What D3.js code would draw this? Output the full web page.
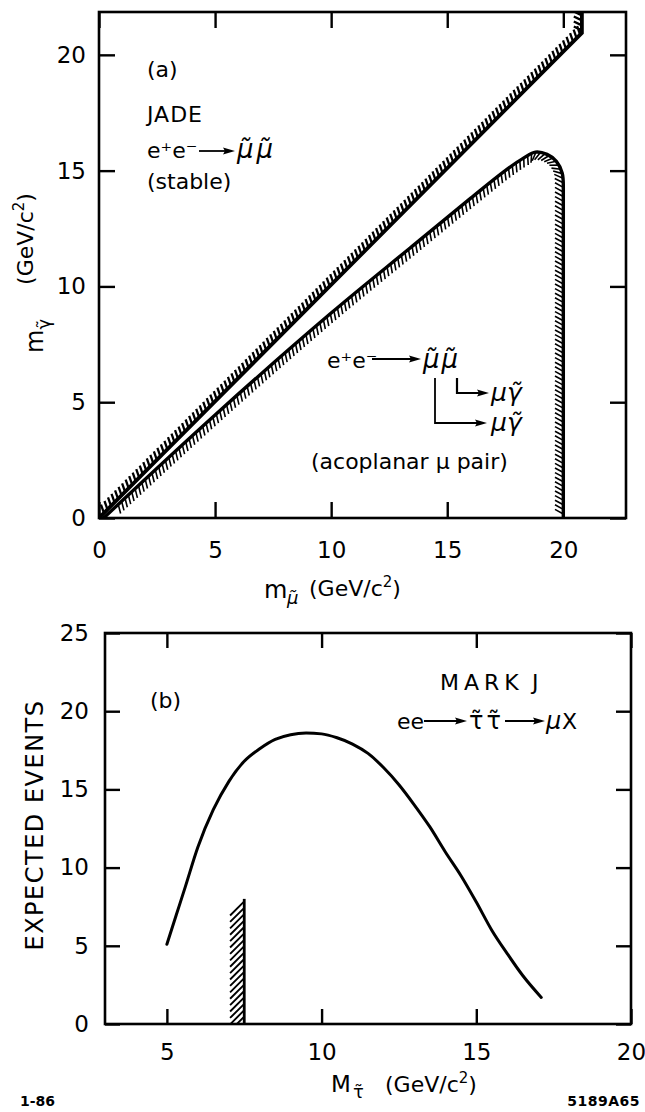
<!DOCTYPE html>
<html>
<head>
<meta charset="utf-8">
<script src="https://cdn.jsdelivr.net/npm/d3@7"></script>
<style>
  html, body { margin: 0; padding: 0; background: #fff; }
  svg { display: block; }
  text { font-family: "DejaVu Sans", sans-serif; fill: #000; }
</style>
</head>
<body>
<svg id="fig" width="645" height="1112"></svg>
<script>
// ---------------- data ----------------
// (a) JADE smuon search, photino mass vs smuon mass (GeV/c^2)
const ticksA = [0, 5, 10, 15, 20];
// stable smuon: region with m_photino above m_smuon is closed
const stableLimit = [[0, 0], [20.8, 20.95], [20.8, 21.85]];
// acoplanar muon pairs: region inside the contour is excluded
const acoplanarLimit = [
  [0.2, 0], [5, 4.45], [10, 8.85], [13.4, 11.66],
  [16, 13.8], [17.5, 15.0], [18.3, 15.55], [18.8, 15.8], [19.3, 15.7],
  [19.7, 15.4], [19.95, 14.9], [20.0, 14.3], [20.0, 0]
];

// (b) MARK J stau search, expected events vs stau mass
const ticksBx = [5, 10, 15, 20];
const ticksBy = [0, 5, 10, 15, 20, 25];
const stauMass = [5.0, 5.3, 5.6, 6.0, 6.5, 7.0, 7.5, 8.0, 8.5, 9.0, 9.5, 10.0, 10.5,
                  11.0, 11.5, 12.0, 12.5, 13.0, 13.5, 14.0, 14.5, 15.0, 15.5, 16.0, 16.5, 17.1];
const expectedEvents = [5.1, 6.95, 8.8, 11.3, 13.7, 15.5, 16.8, 17.6, 18.2, 18.5, 18.6, 18.55, 18.3,
                        17.9, 17.3, 16.4, 15.3, 14.0, 12.6, 11.0, 9.5, 7.8, 6.0, 4.5, 3.1, 1.7];
const stauLimitMass = 7.5;
const stauLimitTop = 8.0;

// ---------------- layout ----------------
const svg = d3.select("#fig");
const xA = d3.scaleLinear().domain([0, 22.7]).range([99, 626]);
const yA = d3.scaleLinear().domain([0, 21.85]).range([518, 12]);
const xB = d3.scaleLinear().domain([3, 20]).range([105, 631]);
const yB = d3.scaleLinear().domain([0, 25]).range([1024, 633]);

const defs = svg.append("defs");
function clipFor(id, x, y) {
  defs.append("clipPath").attr("id", id).append("rect")
    .attr("x", x.range()[0]).attr("y", y.range()[1])
    .attr("width", x.range()[1] - x.range()[0])
    .attr("height", y.range()[0] - y.range()[1]);
  return `url(#${id})`;
}

// Frame with inward ticks on all four sides; labels on left and bottom.
function frame(x, y, xt, yt, opts) {
  const g = svg.append("g");
  const [x0, x1] = x.range(), [y0, y1] = y.range();
  const style = sel => {
    sel.select(".domain").remove();
    sel.selectAll("line").attr("stroke", "#000").attr("stroke-width", 2.4);
    sel.selectAll("text").attr("font-size", 23).attr("font-family", "DejaVu Sans, sans-serif");
  };
  g.append("g").attr("transform", `translate(0,${y0})`)
    .call(d3.axisBottom(x).tickValues(xt).tickSizeInner(-opts.tick).tickSizeOuter(0)
      .tickPadding(opts.xPad).tickFormat(d3.format("d"))).call(style);
  g.append("g").attr("transform", `translate(0,${y1})`)
    .call(d3.axisTop(x).tickValues(xt).tickSizeInner(-opts.tick).tickSizeOuter(0).tickFormat("")).call(style);
  g.append("g").attr("transform", `translate(${x0},0)`)
    .call(d3.axisLeft(y).tickValues(yt).tickSizeInner(-opts.tick).tickSizeOuter(0)
      .tickPadding(opts.yPad).tickFormat(d3.format("d"))).call(style);
  g.append("g").attr("transform", `translate(${x1},0)`)
    .call(d3.axisRight(y).tickValues(yt).tickSizeInner(-opts.tick).tickSizeOuter(0).tickFormat("")).call(style);
  g.append("rect").attr("x", x0).attr("y", y1).attr("width", x1 - x0).attr("height", y0 - y1)
    .attr("fill", "none").attr("stroke", "#000").attr("stroke-width", 2.6);
  return g;
}

// Short hatch strokes along a boundary path, on one side of it.
function hatchAlong(g, d, { side, tilt, len, step, start = 0, width }) {
  const probe = g.append("path").attr("d", d).attr("fill", "none").attr("stroke", "none");
  const node = probe.node();
  const total = node.getTotalLength();
  const c = Math.cos(tilt), sn = Math.sin(tilt);
  const segs = [];
  for (let s = start; s <= total; s += step) {
    const p = node.getPointAtLength(s);
    const a = node.getPointAtLength(Math.max(0, s - 0.6));
    const b = node.getPointAtLength(Math.min(total, s + 0.6));
    let tx = b.x - a.x, ty = b.y - a.y;
    const m = Math.hypot(tx, ty) || 1; tx /= m; ty /= m;
    const nx = -side * ty, ny = side * tx;
    const dx = c * nx + sn * tx, dy = c * ny + sn * ty;
    segs.push(`M${p.x.toFixed(2)},${p.y.toFixed(2)}l${(dx * len).toFixed(2)},${(dy * len).toFixed(2)}`);
  }
  probe.remove();
  g.append("path").attr("d", segs.join("")).attr("fill", "none")
    .attr("stroke", "#000").attr("stroke-width", width);
}

function arrowHead(g, x, y, dir) {
  // dir: +1 pointing right
  g.append("path").attr("d", `M${x},${y}l${-dir * 12},-3.4l${dir * 2},3.4l${-dir * 2},3.4z`).attr("fill", "#000");
}
function hArrow(g, x1, x2, y) {
  g.append("line").attr("x1", x1).attr("x2", x2 - 6).attr("y1", y).attr("y2", y)
    .attr("stroke", "#000").attr("stroke-width", 1.8);
  arrowHead(g, x2, y, 1);
}
function txt(g, x, y, s, size, extra = {}) {
  const t = g.append("text").attr("x", x).attr("y", y).attr("font-size", size).text(s);
  for (const k in extra) t.attr(k, extra[k]);
  return t;
}

// ---------------- panel (a) ----------------
frame(xA, yA, ticksA, ticksA, { tick: 16, xPad: 24, yPad: 13 });
const gA = svg.append("g").attr("clip-path", clipFor("clipA", xA, yA));
const lineA = d3.line().x(d => xA(d[0])).y(d => yA(d[1]));
const lineAc = d3.line().x(d => xA(d[0])).y(d => yA(d[1])).curve(d3.curveCatmullRom.alpha(0.5));

const stableD = lineA(stableLimit);
hatchAlong(gA, stableD, { side: -1, tilt: 0.45, len: 9, step: 5, start: 2, width: 2.3 });
gA.append("path").attr("d", stableD).attr("fill", "none").attr("stroke", "#000")
  .attr("stroke-width", 3.8).attr("stroke-linejoin", "miter");

const last = acoplanarLimit[acoplanarLimit.length - 1];
const acoD = lineAc(acoplanarLimit.slice(0, -1)) + `L${xA(last[0])},${yA(last[1])}`;
hatchAlong(gA, acoD, { side: 1, tilt: -0.5, len: 9.5, step: 4.6, start: 20, width: 1.6 });
gA.append("path").attr("d", acoD).attr("fill", "none").attr("stroke", "#000")
  .attr("stroke-width", 3.4).attr("stroke-linejoin", "round");

// annotations (a)
const tA = svg.append("g");
txt(tA, 147, 77, "(a)", 22);
txt(tA, 147, 122, "JADE", 22, { "letter-spacing": 1 });
txt(tA, 147, 158, "e\u207Ae\u207B", 22);
hArrow(tA, 199, 235, 151);
txt(tA, 237, 158, "\u03BC\u0303\u03BC\u0303", 26, { "font-style": "italic", "letter-spacing": 3 });
txt(tA, 147, 189, "(stable)", 22);

txt(tA, 327, 368, "e\u207Ae\u207B", 22);
hArrow(tA, 372, 421, 359);
txt(tA, 423, 368, "\u03BC\u0303\u03BC\u0303", 26, { "font-style": "italic", "letter-spacing": 2 });
tA.append("path").attr("d", "M457,378V393H482").attr("fill", "none").attr("stroke", "#000").attr("stroke-width", 2.2);
arrowHead(tA, 489, 393, 1);
tA.append("path").attr("d", "M435,378V423H480").attr("fill", "none").attr("stroke", "#000").attr("stroke-width", 1.8);
arrowHead(tA, 487, 423, 1);
txt(tA, 491, 401, "\u03BC\u03B3\u0303", 25, { "font-style": "italic" });
txt(tA, 491, 431, "\u03BC\u03B3\u0303", 25, { "font-style": "italic" });
txt(tA, 311, 469, "(acoplanar \u03BC pair)", 22);

// axis titles (a)
const xtA = svg.append("g");
txt(xtA, 264, 598, "m", 24);
txt(xtA, 287, 604, "\u03BC\u0303", 18, { "font-style": "italic" });
const gevA = txt(xtA, 309, 596, "(GeV/c", 22);
gevA.append("tspan").attr("dy", -9).attr("font-size", 15).text("2");
gevA.append("tspan").attr("dy", 9).text(")");

const ytA = svg.append("text").attr("transform", "translate(43,353) rotate(-90)").attr("font-size", 24);
ytA.append("tspan").text("m");
ytA.append("tspan").attr("dy", 7).attr("font-size", 18).text("\u03B3\u0303");
ytA.append("tspan").attr("dx", 34).attr("dy", -17).attr("font-size", 22).text("(GeV/c");
ytA.append("tspan").attr("dy", -9).attr("font-size", 15).text("2");
ytA.append("tspan").attr("dy", 9).attr("font-size", 22).text(")");

// ---------------- panel (b) ----------------
frame(xB, yB, ticksBx, ticksBy, { tick: 15, xPad: 20, yPad: 16 });
const gB = svg.append("g").attr("clip-path", clipFor("clipB", xB, yB));
const curveB = d3.line().x(d => xB(d[0])).y(d => yB(d[1])).curve(d3.curveMonotoneX);
gB.append("path").attr("d", curveB(stauMass.map((m, i) => [m, expectedEvents[i]])))
  .attr("fill", "none").attr("stroke", "#000").attr("stroke-width", 3).attr("stroke-linecap", "round");

const limD = `M${xB(stauLimitMass)},${yB(0)}L${xB(stauLimitMass)},${yB(stauLimitTop)}`;
hatchAlong(gB, limD, { side: -1, tilt: -0.785, len: 20, step: 6.4, start: 1, width: 1.9 });
gB.append("path").attr("d", limD).attr("stroke", "#000").attr("stroke-width", 2.8);

const tB = svg.append("g");
txt(tB, 150, 708, "(b)", 22);
txt(tB, 440, 690, "MARK", 22, { "letter-spacing": 5 });
txt(tB, 532, 690, "J", 22);
txt(tB, 397, 729, "ee", 22);
hArrow(tB, 424, 467, 721);
txt(tB, 469, 729, "\u03C4\u0303\u03C4\u0303", 24, { "letter-spacing": 3 });
hArrow(tB, 505, 545, 721);
txt(tB, 546, 729, "\u03BC", 24, { "font-style": "italic" });
txt(tB, 562, 729, "X", 22);

// axis titles (b)
txt(tB, 331, 1092, "M", 23);
txt(tB, 353, 1098, "\u03C4\u0303", 18);
const gevB = txt(tB, 385, 1092, "(GeV/c", 22);
gevB.append("tspan").attr("dy", -9).attr("font-size", 15).text("2");
gevB.append("tspan").attr("dy", 9).text(")");
svg.append("text").attr("transform", "translate(43,825) rotate(-90)")
  .attr("text-anchor", "middle").attr("font-size", 24).attr("letter-spacing", 1.5)
  .text("EXPECTED EVENTS");

// footer
txt(svg, 20, 1106, "1-86", 14, { "font-weight": "bold" });
txt(svg, 640, 1106, "5189A65", 14, { "font-weight": "bold", "text-anchor": "end", "letter-spacing": 0.5 });
</script>
</body>
</html>
